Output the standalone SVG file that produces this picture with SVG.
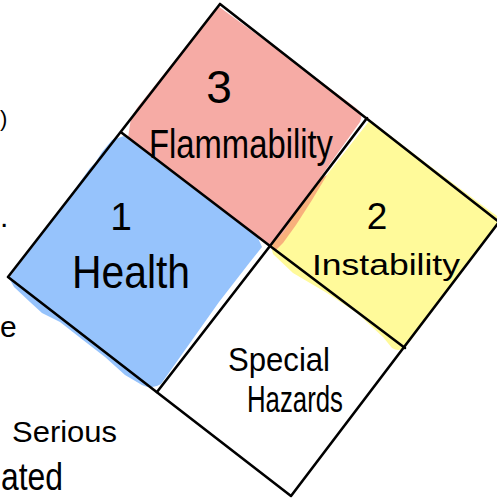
<svg xmlns="http://www.w3.org/2000/svg" width="497" height="498" viewBox="0 0 497 498">
  <style>
    .ink { fill: #000; font-family: "Liberation Sans", "Open Sans", sans-serif; }
    .edge { fill: none; stroke: #000; stroke-width: 2.6; stroke-linecap: round; stroke-linejoin: round; }
    .red { fill: #F6ABA5; }
    .blue { fill: #96C3FC; }
    .yellow { fill: #FFFA9A; }
    .orange { fill: #F8B07C; }
  </style>
  <rect width="497" height="498" fill="#fff"/>

  <!-- brushed colour fills -->
  <g id="fills">
    <path class="yellow" d="M370 120 L430 166 L490 211 L497 216 L497 224 L405 348 Q398 352 392 348 L383 337 L357 313 L327 293 L293 273 L273 254 L271 246 Z"/>
    <path class="orange" d="M272 245 L322 178 L327 175 L312 200 L296 225 L283 243 L276 250 Z"/>
    <path class="red" d="M218 6 L300 66 L356 108 Q364 114 360 122 L322 175 L300 206 L284 232 L271 245 L262 240 L128 138 L131 118 L137 108 Z"/>
    <path class="blue" d="M124 136 L258 238 L262 247 L250 262 L219 302 L185 350 L161 384 Q152 390 142 385 L125 375 L105 357 L83 340 L60 322 L42 313 L30 302 L14 287 L9 278 L60 210 L90 168 L95 163 L102 152 L112 140 Z"/>
  </g>

  <!-- diamond outline and dividing lines -->
  <g id="connectors">
    <path class="edge" d="M220 4 L499 222 L291 496 L8 277 Z"/>
    <path class="edge" d="M122 133 L270 246 L405 348"/>
    <path class="edge" d="M367 118 L270 246 L157 392"/>
  </g>

  <g id="flammability">
    <text class="ink" x="219" y="103" font-size="46" text-anchor="middle">3</text>
    <text class="ink" x="149" y="158" font-size="40" textLength="184" lengthAdjust="spacingAndGlyphs">Flammability</text>
  </g>

  <g id="health">
    <text class="ink" x="121" y="230" font-size="39" text-anchor="middle">1</text>
    <text class="ink" x="72" y="288" font-size="46" textLength="118" lengthAdjust="spacingAndGlyphs">Health</text>
  </g>

  <g id="instability">
    <text class="ink" x="377" y="229" font-size="37" text-anchor="middle">2</text>
    <text class="ink" x="312" y="275" font-size="30" textLength="148" lengthAdjust="spacingAndGlyphs">Instability</text>
  </g>

  <g id="special-hazards">
    <text class="ink" x="228" y="371" font-size="34" textLength="102" lengthAdjust="spacingAndGlyphs">Special</text>
    <text class="ink" x="247" y="412" font-size="36" textLength="96" lengthAdjust="spacingAndGlyphs">Hazards</text>
  </g>

  <!-- margin notes along the left edge -->
  <g id="notes">
    <text class="ink" x="0" y="126" font-size="22">)</text>
    <text class="ink" x="0" y="227" font-size="30">.</text>
    <text class="ink" x="0" y="337" font-size="30">e</text>
    <text class="ink" x="12" y="442" font-size="30" textLength="105" lengthAdjust="spacingAndGlyphs">Serious</text>
    <text class="ink" x="1" y="490" font-size="38" textLength="62" lengthAdjust="spacingAndGlyphs">ated</text>
  </g>
</svg>
